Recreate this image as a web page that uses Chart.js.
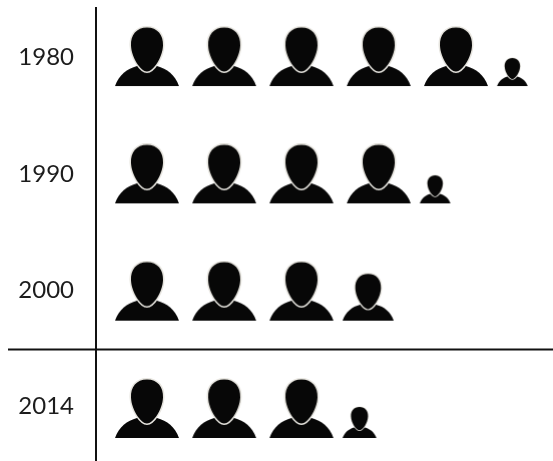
<!DOCTYPE html>
<html>
<head>
<meta charset="utf-8">
<style>html,body{margin:0;padding:0;background:#fff}canvas{display:block}</style>
<script src="https://cdn.jsdelivr.net/npm/chart.js@4"></script>
</head>
<body>
<canvas id="c" width="553" height="461"></canvas>
<script>
// Data: number of person icons per year
const years = ['1980', '1990', '2000', '2014'];
const iconCounts = [5.48, 4.48, 3.8, 3.53];
const labelRows = [0.008, 1.003, 1.993, 2.983];
const dividerAfterRow = 2.498;

// Icon geometry (full-size person)
const ICON_W = 64, ICON_H = 59, CELL = 77.25, PARTIAL_GAP = 41;

function personIcon(scale) {
  const c = document.createElement('canvas');
  c.width = Math.round(ICON_W * scale) + 4;
  c.height = ICON_H + 2;
  const g = c.getContext('2d');
  // icon is bottom-aligned so every icon in a row shares a baseline
  g.translate(c.width / 2 - ICON_W * scale / 2, c.height - 1 - ICON_H * scale);
  g.scale(scale, scale);
  g.fillStyle = '#070707';
  g.beginPath();
  g.moveTo(0, 59);
  g.bezierCurveTo(4, 48, 12, 41.5, 22, 39);
  g.lineTo(42, 39);
  g.bezierCurveTo(52, 41.5, 60, 48, 64, 59);
  g.closePath();
  g.fill();
  const head = new Path2D('M32 0.5 C42.5 0.5 48.5 8 48 18.5 C47.5 31 38 44.5 32 44.5 C26 44.5 16.5 31 16 18.5 C15.5 8 21.5 0.5 32 0.5 Z');
  g.lineWidth = 3;
  g.strokeStyle = '#e6e4de';
  g.stroke(head);
  g.fill(head);
  return c;
}

const points = [], styles = [];
iconCounts.forEach((value, row) => {
  const whole = Math.floor(value);
  const part = value - whole;
  for (let i = 0; i < whole; i++) {
    points.push({ x: i, y: row });
    styles.push(personIcon(1));
  }
  if (part > 0) {
    points.push({ x: whole - 1 + (PARTIAL_GAP + ICON_W * part / 2) / CELL, y: row });
    styles.push(personIcon(part));
  }
});

const divider = {
  id: 'divider',
  afterDraw(chart) {
    const y = chart.scales.y.getPixelForValue(dividerAfterRow);
    const g = chart.ctx;
    g.save();
    g.strokeStyle = '#111';
    g.lineWidth = 2;
    g.beginPath();
    g.moveTo(8, y);
    g.lineTo(chart.width, y);
    g.stroke();
    g.restore();
  }
};

new Chart(document.getElementById('c'), {
  type: 'scatter',
  data: {
    datasets: [{
      data: points,
      pointStyle: styles,
      pointRadius: 5,
      showLine: false,
      clip: false
    }]
  },
  options: {
    responsive: false,
    devicePixelRatio: 1,
    animation: false,
    layout: { autoPadding: false, padding: { top: 8, left: 0, right: 0, bottom: 0 } },
    plugins: { legend: { display: false }, tooltip: { enabled: false } },
    scales: {
      x: { type: 'linear', display: false, min: -0.66, max: 5.256 },
      y: {
        type: 'linear',
        reverse: true,
        min: -0.4135,
        max: 3.448,
        afterFit(scale) {
          scale.width = 96;
          scale.paddingTop = 0;
          scale.paddingBottom = 0;
        },
        afterBuildTicks(scale) {
          scale.ticks = labelRows.map((value) => ({ value }));
        },
        grid: { display: false, drawTicks: false },
        border: { display: true, color: '#111', width: 2 },
        ticks: {
          autoSkip: false,
          callback: (v, i) => years[i],
          padding: 22,
          color: '#1c1c1c',
          font: { family: 'Lato', size: 24 }
        }
      }
    }
  },
  plugins: [divider]
});
</script>
</body>
</html>
